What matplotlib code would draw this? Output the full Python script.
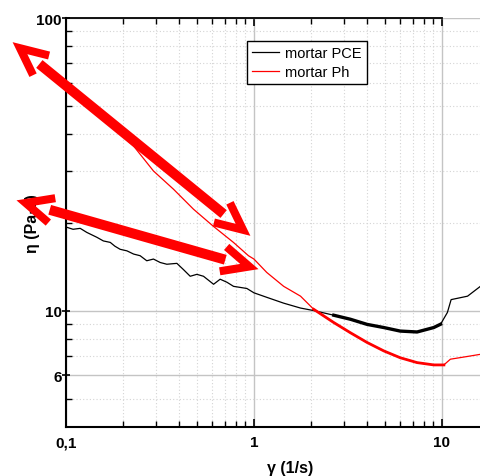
import numpy as np
import matplotlib
matplotlib.use("Agg")
import matplotlib.pyplot as plt
from matplotlib.lines import Line2D

plt.rcParams['font.family'] = ['Liberation Sans', 'DejaVu Sans']

# viscosity curves, shear rate in 1/s, viscosity in Pa.s
shear_pce = [0.1, 0.109, 0.119, 0.129, 0.146, 0.158, 0.172, 0.182, 0.194, 0.211,
             0.229, 0.248, 0.269, 0.292, 0.317, 0.344, 0.389, 0.422, 0.458, 0.497,
             0.539, 0.61, 0.661, 0.718, 0.779, 0.845, 0.917, 1.0, 1.17, 1.44,
             1.77, 2.08, 2.66, 3.26, 4.0, 4.91, 6.0, 7.38, 9.05, 9.84,
             10.7, 11.2, 13.7, 16.3]
eta_pce = [19.3, 18.96, 19.1, 18.5, 17.8, 17.3, 17.1, 16.6, 16.2, 16.0,
           15.6, 15.4, 14.8, 15.0, 14.6, 14.4, 14.5, 13.8, 13.1, 13.3,
           13.1, 12.3, 12.8, 12.5, 12.1, 12.0, 11.9, 11.5, 11.1, 10.6,
           10.2, 10.0, 9.64, 9.34, 8.97, 8.75, 8.51, 8.45, 8.75, 8.98,
           9.85, 10.9, 11.2, 12.2]

shear_ph = [0.1, 0.14, 0.178, 0.229, 0.292, 0.373, 0.477, 0.609, 0.778, 0.935,
            1.0, 1.17, 1.44, 1.77, 2.08, 2.66, 3.26, 4.0, 4.91, 6.0,
            7.38, 9.05, 10.25, 11.1, 13.7, 16.3]
eta_ph = [58.0, 49.0, 42.2, 36.5, 30.0, 26.0, 22.2, 19.4, 17.1, 15.4,
          15.0, 13.5, 12.1, 11.2, 10.1, 9.1, 8.4, 7.78, 7.28, 6.9,
          6.64, 6.52, 6.52, 6.82, 6.97, 7.1]

x_major = [0.1, 1, 10]
x_major_labels = ['0,1', '1', '10']
x_minor = [0.2, 0.3, 0.4, 0.5, 0.6, 0.7, 0.8, 0.9,
           2, 3, 4, 5, 6, 7, 8, 9, 20]
y_major = [6, 10, 100]
y_major_labels = ['6', '10', '100']
y_minor = [5, 7, 8, 9, 20, 30, 40, 50, 60, 70, 80, 90]

W, H = 481, 477
fig = plt.figure(figsize=(W / 100, H / 100), dpi=100)
ax = fig.add_axes([66 / W, 1 - 428 / H, 449 / W, 409 / H])
ax.set_xscale('log')
ax.set_yscale('log')
ax.set_xlim(0.1, 24.5)
ax.set_ylim(4, 100)

ax.set_xticks(x_major, x_major_labels, fontsize=11, fontweight='bold')
ax.set_xticks(x_minor, minor=True)
ax.set_yticks(y_major, y_major_labels, fontsize=11, fontweight='bold')
ax.set_yticks(y_minor, minor=True)
ax.xaxis.set_minor_formatter(plt.NullFormatter())
ax.yaxis.set_minor_formatter(plt.NullFormatter())

ax.grid(True, which='major', color='#c4c4c4', lw=1.0, ls='-')
ax.grid(True, which='minor', color='#d4d4d4', lw=0.8, ls=(0, (1, 2)))
ax.set_axisbelow(True)

ax.tick_params(axis='x', which='major', direction='in', length=6, width=1.2,
               pad=6, top=True)
ax.tick_params(axis='x', which='minor', direction='in', length=4, width=1, top=True)
ax.tick_params(axis='y', which='major', direction='inout', length=6, width=1.2, pad=0)
ax.tick_params(axis='y', which='minor', direction='in', length=4, width=1)

for side in ['left', 'bottom']:
    ax.spines[side].set_linewidth(1.5)
ax.spines['top'].set_linewidth(1.3)
ax.spines['top'].set_bounds(0.1, 10)
ax.spines['right'].set_visible(False)

shear_pce_a, eta_pce_a = np.array(shear_pce), np.array(eta_pce)
shear_ph_a, eta_ph_a = np.array(shear_ph), np.array(eta_ph)

ax.plot(shear_pce_a, eta_pce_a, color='black', lw=0.9, label='mortar PCE')
ax.plot(shear_ph_a, eta_ph_a, color='red', lw=0.9, label='mortar Ph')

# noisy high-rate section shows up as a thick band
m = (shear_pce_a >= 2.3) & (shear_pce_a <= 9.9)
ax.plot(shear_pce_a[m], eta_pce_a[m], color='black', lw=2.4)
m = (shear_ph_a >= 2.0) & (shear_ph_a <= 10.3)
ax.plot(shear_ph_a[m], eta_ph_a[m], color='red', lw=2.0)

ax.set_xlabel('γ (1/s)', fontsize=11.5, fontweight='bold', labelpad=8)
ax.set_ylabel('η (Pa·s)', fontsize=11.5, fontweight='bold')
ax.yaxis.set_label_coords(-0.057, 0.5)

leg = ax.legend(loc='upper left', bbox_to_anchor=(247 / W, 1 - 41.7 / H),
                bbox_transform=fig.transFigure, borderaxespad=0,
                fontsize=10.5, frameon=True, fancybox=False, framealpha=1,
                edgecolor='black', handlelength=1.85, handletextpad=0.4,
                labelspacing=0.35, borderpad=0.35)
leg.get_frame().set_linewidth(1.0)


def to_fig(pts):
    pts = np.asarray(pts, float)
    return pts[:, 0] / W, 1 - pts[:, 1] / H


def chevron_arrow(p0, p1, shaft_w=7.2, head_w=5.8, gap=34, arm=30, spread=25):
    p0, p1 = np.array(p0, float), np.array(p1, float)
    u = (p1 - p0) / np.hypot(*(p1 - p0))
    for tip, d in ((p0, u), (p1, -u)):
        v = tip + d * 9
        ang = np.arctan2(d[1], d[0])
        ends = [v + arm * np.array([np.cos(ang + s), np.sin(ang + s)])
                for s in np.radians([spread, -spread])]
        xs, ys = to_fig([ends[0], v, ends[1]])
        fig.add_artist(Line2D(xs, ys, color='red', lw=head_w, transform=fig.transFigure,
                              solid_joinstyle='miter', solid_capstyle='butt', zorder=10))
    xs, ys = to_fig([p0 + u * gap, p1 - u * gap])
    fig.add_artist(Line2D(xs, ys, color='red', lw=shaft_w, transform=fig.transFigure,
                          solid_capstyle='butt', zorder=10))


chevron_arrow((13, 43.5), (250, 236.5))
chevron_arrow((17, 201.5), (258, 270))

fig.savefig('out.png', dpi=100)
